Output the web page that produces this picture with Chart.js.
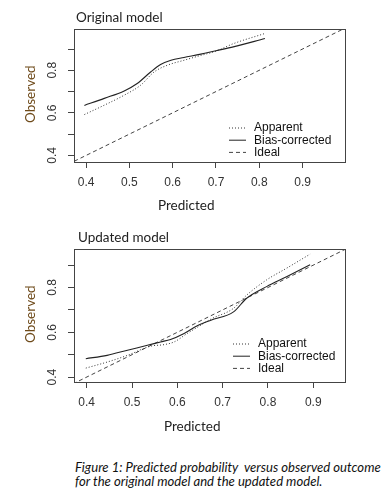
<!DOCTYPE html>
<html>
<head>
<meta charset="utf-8">
<script src="https://cdn.jsdelivr.net/npm/chart.js@4"></script>
<style>
  body { margin: 0; background: #fff; width: 390px; height: 497px; overflow: hidden; position: relative; }
  canvas { position: absolute; left: 0; }
  .lbl { position: absolute; font-family: Lato, "Open Sans", sans-serif; color: #222; white-space: nowrap; }
  .obs { color: #6e4a1a; transform: rotate(-90deg); transform-origin: center; }
  .caption { position: absolute; left: 75px; top: 460px; font-family: Lato, sans-serif; font-style: italic; font-size: 13.1px; line-height: 14px; color: #111; }
</style>
</head>
<body>
<canvas id="origChart" width="390" height="220" style="top:0"></canvas>
<canvas id="updChart" width="390" height="220" style="top:220px"></canvas>

<div class="lbl" style="left:76px; top:9px; font-size:13.5px;">Original model</div>
<div class="lbl" style="left:158px; top:197px; font-size:13.5px;">Predicted</div>
<div class="lbl obs" style="left:2px; top:87px; font-size:13.5px; width:56px; text-align:center;">Observed</div>

<div class="lbl" style="left:78px; top:229px; font-size:13.5px;">Updated model</div>
<div class="lbl" style="left:164px; top:418px; font-size:13.5px;">Predicted</div>
<div class="lbl obs" style="left:2px; top:307px; font-size:13.5px; width:56px; text-align:center;">Observed</div>

<div class="caption">Figure 1: Predicted probability&nbsp; versus observed outcome<br>for the original model and the updated model.</div>

<script>
// ---- data ----
const xTicks = [0.4, 0.5, 0.6, 0.7, 0.8, 0.9];
const yTicks = [0.4, 0.5, 0.6, 0.7, 0.8, 0.9];
const yLabelShown = [0.4, 0.6, 0.8];
const legendLabels = ['Apparent', 'Bias-corrected', 'Ideal'];

// Original model
const origApparentX = [0.396, 0.442, 0.488, 0.526, 0.557, 0.588, 0.626, 0.665, 0.70, 0.74, 0.813];
const origApparentY = [0.592, 0.636, 0.683, 0.730, 0.792, 0.824, 0.847, 0.870, 0.890, 0.925, 0.973];
const origBiasX = [0.396, 0.442, 0.488, 0.518, 0.549, 0.572, 0.596, 0.626, 0.665, 0.70, 0.74, 0.813];
const origBiasY = [0.635, 0.668, 0.703, 0.738, 0.792, 0.827, 0.847, 0.860, 0.876, 0.892, 0.910, 0.949];

// Updated model
const updApparentX = [0.398, 0.445, 0.49, 0.541, 0.571, 0.593, 0.622, 0.652, 0.674, 0.724, 0.753, 0.797, 0.841, 0.893];
const updApparentY = [0.440, 0.467, 0.497, 0.538, 0.545, 0.557, 0.595, 0.632, 0.659, 0.707, 0.766, 0.834, 0.886, 0.949];
const updBiasX = [0.398, 0.445, 0.49, 0.534, 0.563, 0.585, 0.615, 0.644, 0.674, 0.724, 0.753, 0.797, 0.841, 0.893];
const updBiasY = [0.482, 0.497, 0.520, 0.542, 0.557, 0.568, 0.595, 0.629, 0.654, 0.691, 0.752, 0.804, 0.848, 0.902];

const idealX = [0.3, 1.0];
const idealY = [0.3, 1.0];

// axis ranges of each panel
const origXRange = [0.372, 0.998];
const origYRange = [0.369, 0.994];
const updXRange = [0.372, 0.970];
const updYRange = [0.378, 0.972];

const toPoints = (xs, ys) => xs.map((x, i) => ({ x: x, y: ys[i] }));

// box around the plot + legend inside it
const boxAndLegend = {
    id: 'boxAndLegend',
    afterDraw(chart) {
        const c = chart.ctx;
        const a = chart.chartArea;
        c.save();
        c.strokeStyle = '#444';
        c.lineWidth = 1;
        c.strokeRect(Math.round(a.left) + 0.5, Math.round(a.top) + 0.5,
            Math.round(a.right - a.left), Math.round(a.bottom - a.top));

        const lg = chart.options.plugins.boxAndLegend;
        c.font = '12px "Liberation Sans", Arial, sans-serif';
        c.textBaseline = 'middle';
        c.fillStyle = '#111';
        chart.data.datasets.forEach((ds, i) => {
            const y = lg.y + i * 12.2;
            c.beginPath();
            c.strokeStyle = ds.borderColor;
            c.setLineDash(ds.borderDash || []);
            c.moveTo(lg.x, y);
            c.lineTo(lg.x + 17, y);
            c.stroke();
            c.setLineDash([]);
            c.fillText(ds.label, lg.x + 25, y);
        });
        c.restore();
    }
};

function makeChart(id, apX, apY, bcX, bcY, xr, yr, legendPos) {
    return new Chart(document.getElementById(id).getContext('2d'), {
        type: 'scatter',
        data: {
            datasets: [{
                label: legendLabels[0],
                data: toPoints(apX, apY),
                showLine: true,
                borderColor: '#333',
                borderWidth: 1,
                borderDash: [1, 2],
                pointRadius: 0,
                cubicInterpolationMode: 'monotone'
            }, {
                label: legendLabels[1],
                data: toPoints(bcX, bcY),
                showLine: true,
                borderColor: '#222',
                borderWidth: 1.1,
                pointRadius: 0,
                cubicInterpolationMode: 'monotone'
            }, {
                label: legendLabels[2],
                data: toPoints(idealX, idealY),
                showLine: true,
                borderColor: '#444',
                borderWidth: 1,
                borderDash: [4, 3],
                pointRadius: 0
            }]
        },
        options: {
            responsive: false,
            animation: false,
            layout: { padding: { top: 29, right: 45, left: 0, bottom: 0 } },
            plugins: {
                legend: { display: false },
                tooltip: { enabled: false },
                boxAndLegend: legendPos
            },
            scales: {
                x: {
                    type: 'linear',
                    min: xr[0],
                    max: xr[1],
                    afterBuildTicks: (s) => { s.ticks = xTicks.map(v => ({ value: v })); },
                    afterFit: (s) => { s.height = 58; },
                    grid: { drawOnChartArea: false, tickLength: 6, color: '#444' },
                    border: { color: '#444' },
                    ticks: {
                        color: '#333',
                        padding: 7,
                        maxRotation: 0,
                        font: { family: '"Liberation Sans", Arial, sans-serif', size: 12 },
                        callback: (v) => v.toFixed(1)
                    }
                },
                y: {
                    type: 'linear',
                    min: yr[0],
                    max: yr[1],
                    afterBuildTicks: (s) => { s.ticks = yTicks.map(v => ({ value: v })); },
                    afterFit: (s) => { s.width = 74; },
                    grid: { drawOnChartArea: false, tickLength: 6, color: '#444' },
                    border: { color: '#444' },
                    ticks: {
                        color: '#333',
                        padding: 7,
                        minRotation: 90,
                        maxRotation: 90,
                        crossAlign: 'center',
                        font: { family: '"Liberation Sans", Arial, sans-serif', size: 12 },
                        callback: (v) => yLabelShown.some(t => Math.abs(t - v) < 1e-6) ? v.toFixed(1) : ''
                    }
                }
            }
        },
        plugins: [boxAndLegend]
    });
}

const origChart = makeChart('origChart', origApparentX, origApparentY, origBiasX, origBiasY,
    origXRange, origYRange, { x: 229, y: 128 });
const updChart = makeChart('updChart', updApparentX, updApparentY, updBiasX, updBiasY,
    updXRange, updYRange, { x: 233, y: 124 });
</script>
</body>
</html>
